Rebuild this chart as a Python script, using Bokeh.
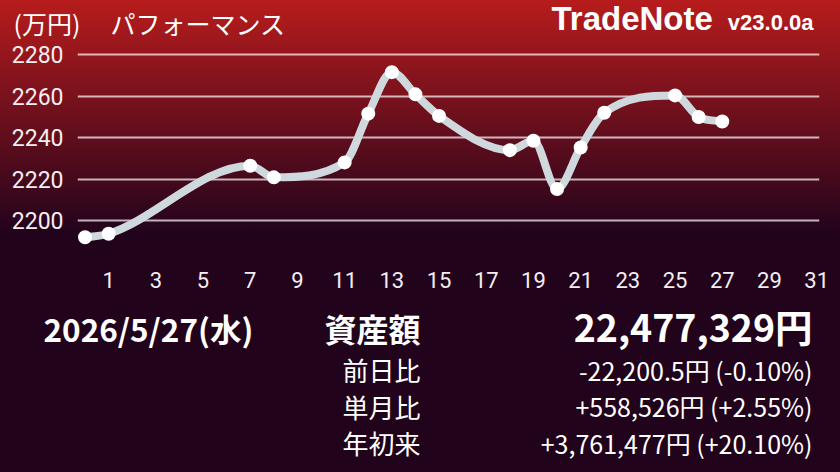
from bokeh.plotting import figure
from bokeh.layouts import column
from bokeh.models import Label, FixedTicker
from bokeh.embed import file_html
from bokeh.resources import INLINE

# ---- data (万円) ----
days = [0, 1, 7, 8, 11, 12, 13, 14, 15, 18, 19, 20, 21, 22, 25, 26, 27]
assets = [2191.9, 2193.6, 2226.4, 2220.8, 2228.0, 2251.5, 2271.5, 2260.8, 2250.4,
          2233.9, 2238.4, 2215.2, 2235.2, 2251.9, 2260.3, 2249.9, 2247.7]
x_ticks = list(range(1, 32, 2))
y_ticks = [2200, 2220, 2240, 2260, 2280]

title_unit = "(万円)"
title_text = "パフォーマンス"
brand = "TradeNote"
version = "v23.0.0a"
date_text = "2026/5/27(水)"
total_label = "資産額"
total_value = "22,477,329円"
row_labels = ["前日比", "単月比", "年初来"]
row_values = ["-22,200.5円 (-0.10%)", "+558,526円 (+2.55%)", "+3,761,477円 (+20.10%)"]

W = 840
TOP_H, MID_H, BOT_H = 40, 254, 178
TOP_C = "#b71c1c"
BOT_C = "#21031c"
JP = "Noto Sans CJK JP"


def no_align(f):
    try:
        f.frame_align = False
    except Exception:
        pass


def blank(h):
    f = figure(width=W, height=h, output_backend="svg", toolbar_location=None,
               x_range=(0, W), y_range=(0, h), x_axis_type=None, y_axis_type=None,
               min_border=0, min_border_left=0, min_border_right=0,
               min_border_top=0, min_border_bottom=0)
    f.outline_line_color = None
    f.background_fill_color = None
    f.border_fill_color = None
    f.grid.visible = False
    no_align(f)
    return f


def lab(f, h, cx, cy, text, size, align="left", bold=False, font=JP, color="white",
        baseline="middle"):
    f.add_layout(Label(x=cx, y=h - cy, text=text, text_font=font, text_font_size=size,
                       text_align=align, text_baseline=baseline, text_color=color,
                       text_font_style="bold" if bold else "normal"))


# ---- top strip: titles ----
top = blank(TOP_H)
lab(top, TOP_H, 13, 22, title_unit, "25px")
lab(top, TOP_H, 110, 22, title_text, "25px")
lab(top, TOP_H, 551, 18, brand, "33px", bold=True, font="Liberation Sans")
lab(top, TOP_H, 813, 22, version, "22px", align="right", bold=True, font="Liberation Sans")

# ---- chart ----
p = figure(width=W, height=MID_H, output_backend="svg", toolbar_location=None,
           x_range=(-0.32, 31.12), y_range=(2179.76, 2286.75),
           min_border_left=77, min_border_right=21, min_border_top=0, min_border_bottom=32)
p.outline_line_color = None
p.background_fill_color = None
p.border_fill_color = None
no_align(p)

for ax in (p.xaxis[0], p.yaxis[0]):
    ax.axis_line_color = None
    ax.major_tick_line_color = None
    ax.minor_tick_line_color = None
    ax.major_label_text_font = "Roboto"
    ax.major_label_text_font_size = "22px"
    ax.major_label_text_color = "#f5edef"
p.yaxis.major_label_text_font_size = "23px"
p.xaxis.ticker = FixedTicker(ticks=x_ticks)
p.yaxis.ticker = FixedTicker(ticks=y_ticks)
p.xaxis.major_label_standoff = 3
p.yaxis.major_label_standoff = 8
p.xgrid.grid_line_color = None
p.ygrid.grid_line_color = "white"
p.ygrid.grid_line_alpha = 0.7
p.ygrid.grid_line_width = 2

# smooth monotone cubic (Fritsch-Carlson) path through the data points
n = len(days)
d = [(assets[i + 1] - assets[i]) / (days[i + 1] - days[i]) for i in range(n - 1)]
m = [0.0] * n
m[0] = d[0]
m[-1] = d[-1]
for i in range(1, n - 1):
    m[i] = 0.0 if d[i - 1] * d[i] <= 0 else (d[i - 1] + d[i]) / 2
for i in range(n - 1):
    if d[i] == 0:
        m[i] = m[i + 1] = 0
        continue
    a = m[i] / d[i]
    b = m[i + 1] / d[i]
    s = a * a + b * b
    if s > 9:
        tau = 3 / s ** 0.5
        m[i] = tau * a * d[i]
        m[i + 1] = tau * b * d[i]
x0 = days[:-1]; x1 = days[1:]; y0 = assets[:-1]; y1 = assets[1:]
dx = [x1[i] - x0[i] for i in range(n - 1)]
cx0 = [x0[i] + dx[i] / 3 for i in range(n - 1)]
cy0 = [y0[i] + m[i] * dx[i] / 3 for i in range(n - 1)]
cx1 = [x1[i] - dx[i] / 3 for i in range(n - 1)]
cy1 = [y1[i] - m[i + 1] * dx[i] / 3 for i in range(n - 1)]
p.bezier(x0=x0, y0=y0, x1=x1, y1=y1, cx0=cx0, cy0=cy0, cx1=cx1, cy1=cy1,
         line_color="#cfd8dc", line_width=8, line_cap="round")
p.scatter(days, assets, size=14, fill_color="white", line_color=None)

# ---- bottom summary ----
bot = blank(BOT_H)
off = TOP_H + MID_H
lab(bot, BOT_H, 43, 327 - off, date_text, "31.5px", bold=True)
lab(bot, BOT_H, 420, 327 - off, total_label, "32px", align="right", bold=True)
lab(bot, BOT_H, 812, 325 - off, total_value, "37.5px", align="right", bold=True)
for i, (l, v) in enumerate(zip(row_labels, row_values)):
    cy = 369 + 36.5 * i - off
    lab(bot, BOT_H, 420, cy, l, "26px", align="right")
    lab(bot, BOT_H, 812, cy, v, "25px", align="right")

layout = column(top, p, bot, spacing=0)
layout.styles = {"background": "linear-gradient(to bottom, %s 0px, %s 235px, %s 472px)"
                 % (TOP_C, BOT_C, BOT_C)}

open("out.html", "w").write(file_html(layout, INLINE))
